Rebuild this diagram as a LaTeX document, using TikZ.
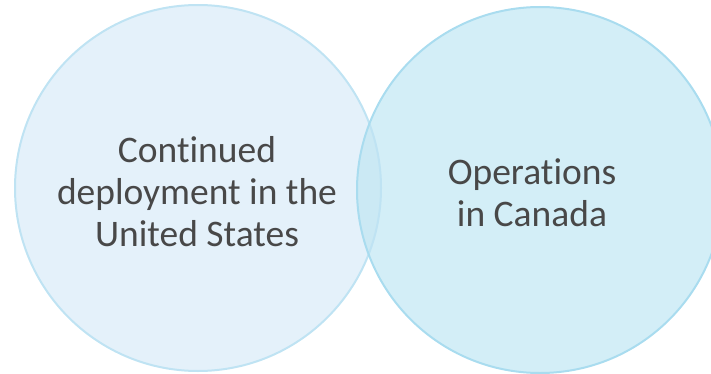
\documentclass[tikz,border=0pt]{standalone}
\usepackage{fontspec}
\setmainfont{Carlito}[Ligatures=NoCommon]
\definecolor{leftfill}{HTML}{E4F1FA}
\definecolor{leftline}{HTML}{BFE3F3}
\definecolor{rightfill}{HTML}{D3EEF7}
\definecolor{rightline}{HTML}{A9DCEF}
\definecolor{overfill}{HTML}{CBE9F4}
\definecolor{txt}{HTML}{484848}
\begin{document}
\begin{tikzpicture}[x=1pt,y=-1pt,
  lbl/.style={text=txt,align=center,font=\fontsize{37.5}{42}\selectfont,inner sep=0pt}]
\useasboundingbox (0,0) rectangle (711,374);
\clip (0,0) rectangle (711,374);
\coordinate (lc) at (198,188);
\coordinate (rc) at (540,190);
\fill[leftfill] (lc) circle[radius=183];
\fill[rightfill] (rc) circle[radius=183];
\begin{scope}
\clip (lc) circle[radius=183];
\fill[overfill] (rc) circle[radius=183];
\end{scope}
\draw[leftline,line width=2pt] (lc) circle[radius=183];
\draw[rightline,line width=2pt] (rc) circle[radius=183];
\node[lbl] (us) at (197,192) {Continued\\deployment in the\\United States};
\node[lbl] (ca) at (532,193) {Operations\\in Canada};
\end{tikzpicture}
\end{document}
